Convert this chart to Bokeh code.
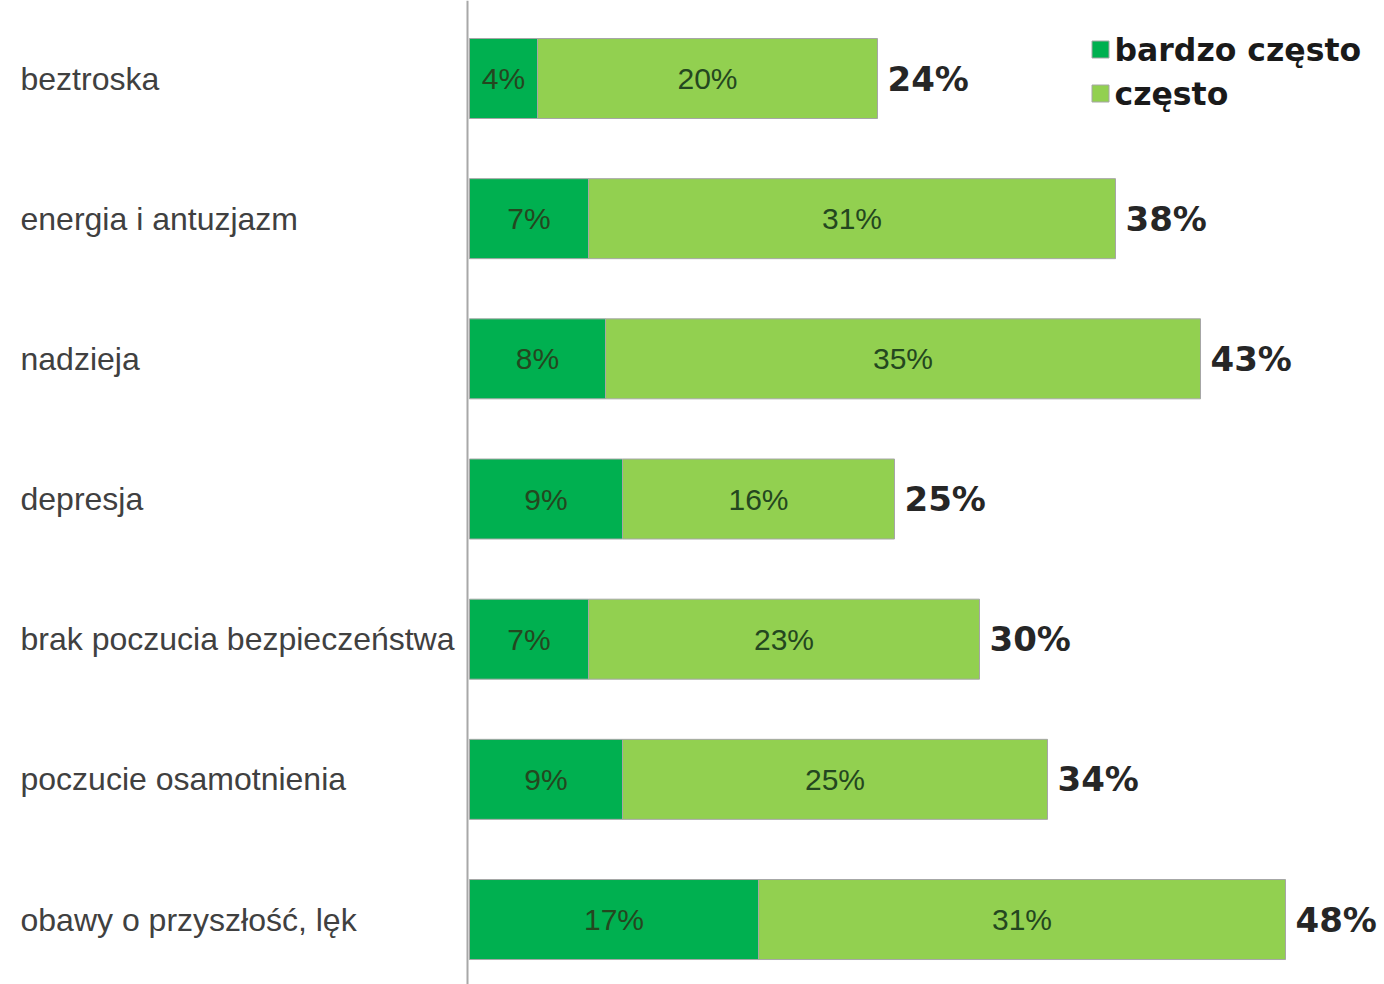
from bokeh.plotting import figure
from bokeh.models import Range1d, Span, ColumnDataSource
from bokeh.core.properties import value
from bokeh.embed import file_html
from bokeh.resources import INLINE

categories = ["beztroska", "energia i antuzjazm", "nadzieja", "depresja",
              "brak poczucia bezpieczeństwa", "poczucie osamotnienia",
              "obawy o przyszłość, lęk"]
bardzo_czesto = [4, 7, 8, 9, 7, 9, 17]
czesto = [20, 31, 35, 16, 23, 25, 31]
series_names = ["bardzo często", "często"]
series_colors = ["#00B050", "#92D050"]

totals = [a + b for a, b in zip(bardzo_czesto, czesto)]
idx = list(range(len(categories)))

W, H = 1384, 984
PX_PER_UNIT = 17.0
X_ORIGIN_PX = 469.0
ROW_PX = 140.17
ROW0_PX = 78.0

x_range = Range1d(-X_ORIGIN_PX / PX_PER_UNIT, (W - X_ORIGIN_PX) / PX_PER_UNIT)
y_range = Range1d((H - ROW0_PX) / ROW_PX, -ROW0_PX / ROW_PX)

p = figure(width=W, height=H, x_range=x_range, y_range=y_range,
           x_axis_type=None, y_axis_type=None, toolbar_location=None,
           output_backend="svg", min_border=0)
p.outline_line_color = None
p.grid.visible = False
p.background_fill_color = "white"

src = ColumnDataSource(dict(
    y=idx, cat=categories, a=bardzo_czesto, b=czesto, tot=totals,
    a_mid=[v / 2 for v in bardzo_czesto],
    b_mid=[a + b / 2 for a, b in zip(bardzo_czesto, czesto)],
    a_lbl=[f"{v}%" for v in bardzo_czesto],
    b_lbl=[f"{v}%" for v in czesto],
    t_lbl=[f"{v}%" for v in totals],
    zero=[0] * len(idx),
))

bar_h = 80 / ROW_PX
p.hbar(y="y", left="zero", right="a", height=bar_h, source=src,
       fill_color=series_colors[0], line_color="#A6A6A6", line_width=1)
p.hbar(y="y", left="a", right="tot", height=bar_h, source=src,
       fill_color=series_colors[1], line_color="#A6A6A6", line_width=1)

p.add_layout(Span(location=-2 / PX_PER_UNIT, dimension="height",
                  line_color="#A8A8A8", line_width=2))

# category labels
p.text(x=(20 - X_ORIGIN_PX) / PX_PER_UNIT, y="y", text="cat", source=src,
       text_font=value("Liberation Sans"), text_font_size="32px",
       text_color="#404040", text_align="left", text_baseline="middle")

# inner labels
for xcol, tcol in (("a_mid", "a_lbl"), ("b_mid", "b_lbl")):
    p.text(x=xcol, y="y", text=tcol, source=src,
           text_font=value("Liberation Sans"), text_font_size="30px",
           text_color="#24471f", text_align="center", text_baseline="middle")

# totals
p.text(x="tot", y="y", text="t_lbl", source=src, x_offset=10,
       text_font=value("DejaVu Sans"), text_font_style="bold",
       text_font_size="34px", text_color="#262626",
       text_align="left", text_baseline="middle")

# legend
leg_y = [(49 - ROW0_PX) / ROW_PX, (93 - ROW0_PX) / ROW_PX]
leg_sq_x = (1100 - X_ORIGIN_PX) / PX_PER_UNIT
leg_tx_x = (1114 - X_ORIGIN_PX) / PX_PER_UNIT
leg_src = ColumnDataSource(dict(y=leg_y, name=series_names, color=series_colors))
p.rect(x=leg_sq_x, y="y", width=17, height=17, width_units="screen",
       height_units="screen", fill_color="color", line_color="#A6A6A6",
       line_width=1, source=leg_src)
p.text(x=leg_tx_x, y="y", text="name", source=leg_src,
       text_font=value("DejaVu Sans"), text_font_style="bold",
       text_font_size="31.5px", text_color="#1a1a1a",
       text_align="left", text_baseline="middle")

open("out.html", "w").write(file_html(p, INLINE))
